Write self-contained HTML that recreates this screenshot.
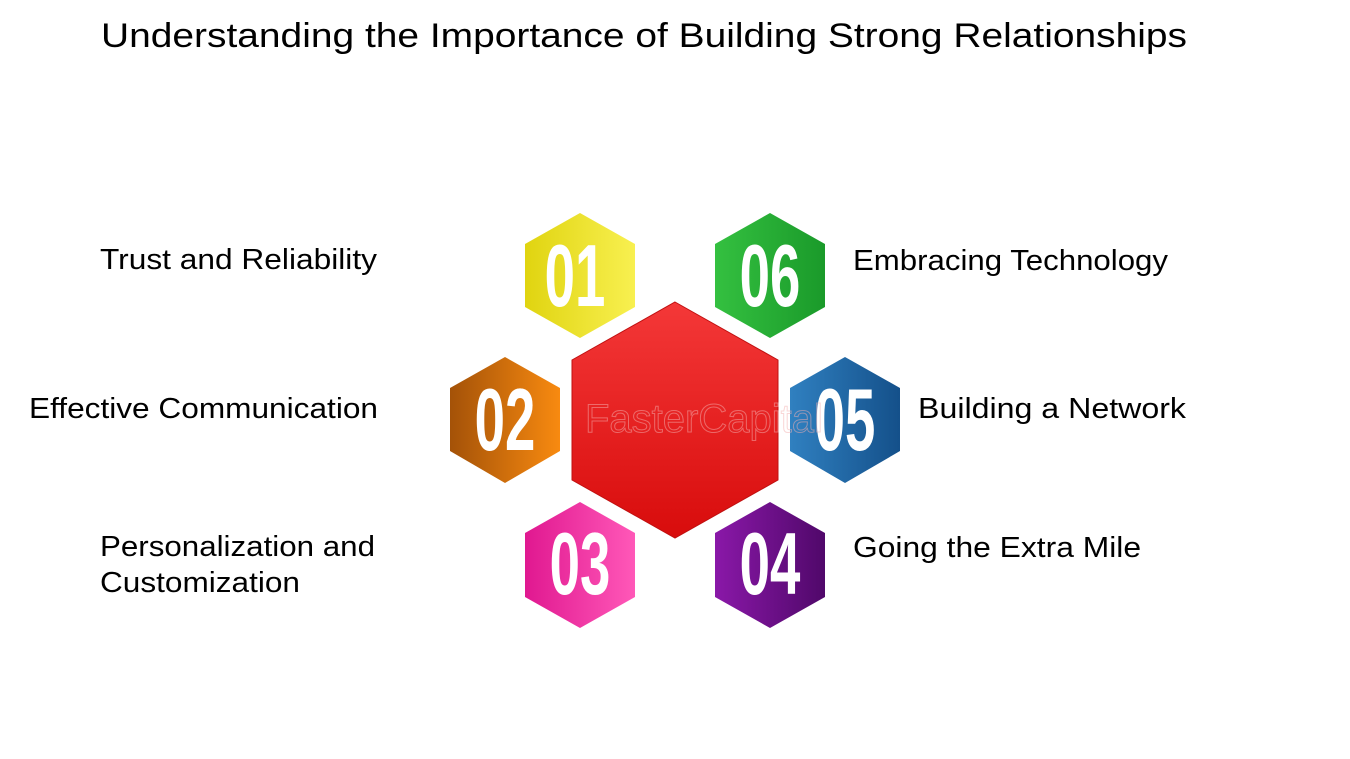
<!DOCTYPE html>
<html><head><meta charset="utf-8"><style>html,body{margin:0;padding:0;background:#fff}svg{display:block}</style></head>
<body>
<svg width="1350" height="759" viewBox="0 0 1350 759" xmlns="http://www.w3.org/2000/svg">
<defs>
<linearGradient id="gy" x1="0" y1="0" x2="1" y2="0"><stop offset="0" stop-color="#e0d410"/><stop offset="1" stop-color="#f8f050"/></linearGradient>
<linearGradient id="gg" x1="0" y1="0" x2="1" y2="0"><stop offset="0" stop-color="#34c040"/><stop offset="1" stop-color="#1a9a2a"/></linearGradient>
<linearGradient id="go" x1="0" y1="0" x2="1" y2="0"><stop offset="0" stop-color="#a45208"/><stop offset="1" stop-color="#f88a10"/></linearGradient>
<linearGradient id="gb" x1="0" y1="0" x2="1" y2="0"><stop offset="0" stop-color="#3080c0"/><stop offset="1" stop-color="#14508a"/></linearGradient>
<linearGradient id="gp" x1="0" y1="0" x2="1" y2="0"><stop offset="0" stop-color="#e01890"/><stop offset="1" stop-color="#ff58b8"/></linearGradient>
<linearGradient id="gv" x1="0" y1="0" x2="1" y2="0"><stop offset="0" stop-color="#8a18a8"/><stop offset="1" stop-color="#50086a"/></linearGradient>
<linearGradient id="gr" x1="0" y1="0" x2="0" y2="1"><stop offset="0" stop-color="#f43838"/><stop offset="1" stop-color="#d80c0c"/></linearGradient>
</defs>
<text x="101" y="47" font-family="Liberation Sans, sans-serif" font-size="34" textLength="1086" lengthAdjust="spacingAndGlyphs" fill="#000">Understanding the Importance of Building Strong Relationships</text>

<polygon points="675,302 778,360 778,480 675,538 572,480 572,360" fill="url(#gr)" stroke="#c01010" stroke-width="1"/>

<g font-family="Liberation Sans, sans-serif" font-weight="bold" font-size="88" fill="#fff" text-anchor="middle">
<polygon points="580,213 635,244 635,307 580,338 525,307 525,244" fill="url(#gy)"/>
<text transform="translate(575,306) scale(0.62,1)">01</text>
<polygon points="770,213 825,244 825,307 770,338 715,307 715,244" fill="url(#gg)"/>
<text transform="translate(770,306) scale(0.62,1)">06</text>
<polygon points="505,357 560,388 560,451 505,483 450,451 450,388" fill="url(#go)"/>
<text transform="translate(505,450) scale(0.62,1)">02</text>
<polygon points="845,357 900,388 900,451 845,483 790,451 790,388" fill="url(#gb)"/>
<text transform="translate(845,450) scale(0.62,1)">05</text>
<polygon points="580,502 635,533 635,597 580,628 525,597 525,533" fill="url(#gp)"/>
<text transform="translate(580,594) scale(0.62,1)">03</text>
<polygon points="770,502 825,533 825,597 770,628 715,597 715,533" fill="url(#gv)"/>
<text transform="translate(770,594) scale(0.62,1)">04</text>
</g>
<text x="585" y="432" font-family="Liberation Sans, sans-serif" font-size="40" fill="none" stroke="#f4b0b0" stroke-width="1" opacity="0.5">FasterCapital</text>

<g font-family="Liberation Sans, sans-serif" font-size="29" fill="#000">
<text x="100" y="269" textLength="277" lengthAdjust="spacingAndGlyphs">Trust and Reliability</text>
<text x="29" y="418" textLength="349" lengthAdjust="spacingAndGlyphs">Effective Communication</text>
<text x="100" y="556" textLength="275" lengthAdjust="spacingAndGlyphs">Personalization and</text>
<text x="100" y="592" textLength="200" lengthAdjust="spacingAndGlyphs">Customization</text>
<text x="853" y="270" textLength="315" lengthAdjust="spacingAndGlyphs">Embracing Technology</text>
<text x="918" y="418" textLength="268" lengthAdjust="spacingAndGlyphs">Building a Network</text>
<text x="853" y="557" textLength="288" lengthAdjust="spacingAndGlyphs">Going the Extra Mile</text>
</g>
</svg>
</body></html>
